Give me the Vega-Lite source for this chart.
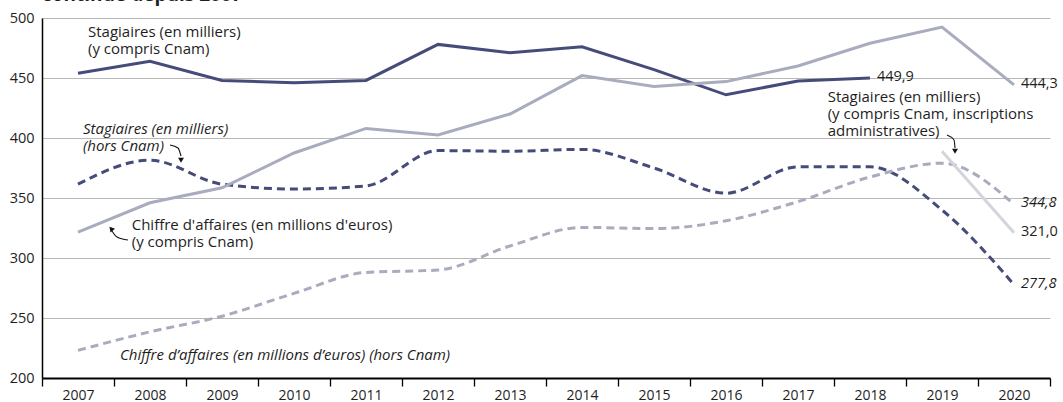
{
  "$schema": "https://vega.github.io/schema/vega-lite/v6.json",
  "autosize": {"type": "none"},
  "padding": {"left": 42, "top": 18, "right": 13, "bottom": 24},
  "width": 1008,
  "height": 360,
  "title": {"text": "continue depuis 2007", "anchor": "start", "frame": "group", "fontSize": 19, "fontWeight": "bold", "font": "Open Sans", "color": "#1e1e1e", "baseline": "alphabetic", "offset": -10},
  "datasets": {
    "series": [
      {"series": "A", "year": 2007, "value": 454},
      {"series": "A", "year": 2008, "value": 464},
      {"series": "A", "year": 2009, "value": 448},
      {"series": "A", "year": 2010, "value": 446},
      {"series": "A", "year": 2011, "value": 448},
      {"series": "A", "year": 2012, "value": 478},
      {"series": "A", "year": 2013, "value": 471},
      {"series": "A", "year": 2014, "value": 476},
      {"series": "A", "year": 2015, "value": 457},
      {"series": "A", "year": 2016, "value": 436},
      {"series": "A", "year": 2017, "value": 447.5},
      {"series": "A", "year": 2018, "value": 449.9},
      {"series": "B", "year": 2007, "value": 321.5},
      {"series": "B", "year": 2008, "value": 346},
      {"series": "B", "year": 2009, "value": 358.5},
      {"series": "B", "year": 2010, "value": 387.5},
      {"series": "B", "year": 2011, "value": 408},
      {"series": "B", "year": 2012, "value": 402.5},
      {"series": "B", "year": 2013, "value": 420},
      {"series": "B", "year": 2014, "value": 452},
      {"series": "B", "year": 2015, "value": 443},
      {"series": "B", "year": 2016, "value": 447},
      {"series": "B", "year": 2017, "value": 460},
      {"series": "B", "year": 2018, "value": 479},
      {"series": "B", "year": 2019, "value": 492.5},
      {"series": "B", "year": 2020, "value": 444.3},
      {"series": "C", "year": 2007, "value": 361.5},
      {"series": "C", "year": 2008, "value": 381.5},
      {"series": "C", "year": 2009, "value": 361.5},
      {"series": "C", "year": 2010, "value": 357.5},
      {"series": "C", "year": 2011, "value": 360},
      {"series": "C", "year": 2012, "value": 389.5},
      {"series": "C", "year": 2013, "value": 389},
      {"series": "C", "year": 2014, "value": 390.5},
      {"series": "C", "year": 2015, "value": 375},
      {"series": "C", "year": 2016, "value": 354},
      {"series": "C", "year": 2017, "value": 376},
      {"series": "C", "year": 2018, "value": 376},
      {"series": "C", "year": 2019, "value": 340},
      {"series": "C", "year": 2020, "value": 277.8},
      {"series": "D", "year": 2007, "value": 223},
      {"series": "D", "year": 2008, "value": 238.5},
      {"series": "D", "year": 2009, "value": 251.5},
      {"series": "D", "year": 2010, "value": 270.5},
      {"series": "D", "year": 2011, "value": 288},
      {"series": "D", "year": 2012, "value": 290},
      {"series": "D", "year": 2013, "value": 310},
      {"series": "D", "year": 2014, "value": 325.5},
      {"series": "D", "year": 2015, "value": 324.5},
      {"series": "D", "year": 2016, "value": 331},
      {"series": "D", "year": 2017, "value": 347},
      {"series": "D", "year": 2018, "value": 367.5},
      {"series": "D", "year": 2019, "value": 379},
      {"series": "D", "year": 2020, "value": 344.8},
      {"series": "E", "year": 2019, "value": 389},
      {"series": "E", "year": 2020, "value": 321.0}
    ],
    "arrows": [
      {"arrow": "a1", "x": 2008.278, "y": 394.2},
      {"arrow": "a1", "x": 2008.389, "y": 391.7},
      {"arrow": "a1", "x": 2008.431, "y": 385},
      {"arrow": "a2", "x": 2007.472, "y": 322.5},
      {"arrow": "a2", "x": 2007.542, "y": 317.5},
      {"arrow": "a2", "x": 2007.694, "y": 315},
      {"arrow": "a3", "x": 2019.069, "y": 402.5},
      {"arrow": "a3", "x": 2019.167, "y": 398.3},
      {"arrow": "a3", "x": 2019.181, "y": 391.7}
    ],
    "heads": [
      {"arrow": "a1", "x": 2008.431, "y": 381.5},
      {"arrow": "a2", "x": 2007.46, "y": 324.5},
      {"arrow": "a3", "x": 2019.181, "y": 389}
    ],
    "notes_upright": [
      {"label": "Stagiaires (en milliers)\n(y compris Cnam)", "x": 2007.139, "y": 488.3},
      {"label": "Chiffre d'affaires (en millions d'euros)\n(y compris Cnam)", "x": 2007.746, "y": 327.5},
      {"label": "Stagiaires (en milliers)\n(y compris Cnam, inscriptions\nadministratives)", "x": 2017.4125, "y": 434.4}
    ],
    "notes_italic": [
      {"label": "Stagiaires (en milliers)\n(hors Cnam)", "x": 2007.069, "y": 407.5},
      {"label": "Chiffre d’affaires (en millions d’euros) (hors Cnam)", "x": 2007.583, "y": 219.2}
    ]
  },
  "layer": [
    {
      "layer": [
        {
          "data": {"name": "series"},
          "transform": [{"filter": "datum.series === 'C' || datum.series === 'D'"}],
          "mark": {"type": "line", "interpolate": "monotone", "strokeWidth": 3, "strokeDash": [8, 5]},
          "encoding": {
            "x": {"field": "year", "type": "quantitative", "scale": {"domain": [2006.5, 2020.5], "nice": false, "zero": false},
              "axis": {"orient": "bottom", "values": [2007, 2008, 2009, 2010, 2011, 2012, 2013, 2014, 2015, 2016, 2017, 2018, 2019, 2020], "format": "d", "ticks": false, "domain": false, "grid": false, "labelFontSize": 14, "labelColor": "#1e1e1e", "labelPadding": 10, "labelFlush": false, "labelFont": "Open Sans", "title": null}},
            "y": {"field": "value", "type": "quantitative", "scale": {"domain": [200, 500], "nice": false, "zero": false},
              "axis": {"values": [200, 250, 300, 350, 400, 450, 500], "grid": true, "gridColor": "#b8b8b8", "gridWidth": 1, "ticks": false, "domain": true, "domainColor": "#000000", "domainWidth": 1.5, "labelFontSize": 14.5, "labelPadding": 8, "labelColor": "#1e1e1e", "labelFont": "Open Sans", "title": null}},
            "color": {"field": "series", "type": "nominal", "scale": {"domain": ["A", "B", "C", "D", "E"], "range": ["#454c7a", "#a9acbe", "#454c7a", "#a9acbe", "#d3d5dd"]}, "legend": null},
            "detail": {"field": "series"}
          }
        },
        {
          "data": {"name": "series"},
          "transform": [{"filter": "datum.series === 'A' || datum.series === 'B' || datum.series === 'E'"}],
          "mark": {"type": "line", "strokeWidth": 3},
          "encoding": {
            "x": {"field": "year", "type": "quantitative"},
            "y": {"field": "value", "type": "quantitative"},
            "color": {"field": "series", "type": "nominal", "legend": null}
          }
        },
        {
          "data": {"name": "arrows"},
          "mark": {"type": "line", "interpolate": "monotone", "strokeWidth": 1.1, "color": "#111111"},
          "encoding": {
            "x": {"field": "x", "type": "quantitative"},
            "y": {"field": "y", "type": "quantitative"},
            "detail": {"field": "arrow"}
          }
        },
        {
          "data": {"name": "heads"},
          "transform": [{"filter": "datum.arrow !== 'a2'"}],
          "mark": {"type": "point", "shape": "triangle-down", "filled": true, "size": 35, "color": "#111111", "opacity": 1},
          "encoding": {
            "x": {"field": "x", "type": "quantitative"},
            "y": {"field": "y", "type": "quantitative"}
          }
        },
        {
          "data": {"name": "heads"},
          "transform": [{"filter": "datum.arrow === 'a2'"}],
          "mark": {"type": "point", "shape": "triangle-up", "angle": 320, "filled": true, "size": 35, "color": "#111111", "opacity": 1},
          "encoding": {
            "x": {"field": "x", "type": "quantitative"},
            "y": {"field": "y", "type": "quantitative"}
          }
        },
        {
          "data": {"name": "notes_upright"},
          "mark": {"type": "text", "align": "left", "baseline": "middle", "lineBreak": "\n", "lineHeight": 17, "fontSize": 15, "font": "Open Sans", "color": "#1e1e1e"},
          "encoding": {
            "x": {"field": "x", "type": "quantitative"},
            "y": {"field": "y", "type": "quantitative"},
            "text": {"field": "label"}
          }
        },
        {
          "data": {"name": "notes_italic"},
          "mark": {"type": "text", "align": "left", "baseline": "middle", "lineBreak": "\n", "lineHeight": 17, "fontSize": 15, "font": "Open Sans", "fontStyle": "italic", "color": "#1e1e1e"},
          "encoding": {
            "x": {"field": "x", "type": "quantitative"},
            "y": {"field": "y", "type": "quantitative"},
            "text": {"field": "label"}
          }
        },
        {
          "data": {"name": "series"},
          "transform": [
            {"joinaggregate": [{"op": "max", "field": "year", "as": "last"}], "groupby": ["series"]},
            {"filter": "datum.year === datum.last && (datum.series === 'A' || datum.series === 'B' || datum.series === 'E')"}
          ],
          "mark": {"type": "text", "align": "left", "baseline": "middle", "dx": 7, "dy": -1, "fontSize": 14.5, "font": "Open Sans", "color": "#1e1e1e"},
          "encoding": {
            "x": {"field": "year", "type": "quantitative"},
            "y": {"field": "value", "type": "quantitative"},
            "text": {"field": "value", "type": "quantitative", "format": ".1f"}
          }
        },
        {
          "data": {"name": "series"},
          "transform": [
            {"joinaggregate": [{"op": "max", "field": "year", "as": "last"}], "groupby": ["series"]},
            {"filter": "datum.year === datum.last && (datum.series === 'C' || datum.series === 'D')"}
          ],
          "mark": {"type": "text", "align": "left", "baseline": "middle", "dx": 7, "dy": -1, "fontSize": 14.5, "font": "Open Sans", "fontStyle": "italic", "color": "#1e1e1e"},
          "encoding": {
            "x": {"field": "year", "type": "quantitative"},
            "y": {"field": "value", "type": "quantitative"},
            "text": {"field": "value", "type": "quantitative", "format": ".1f"}
          }
        }
      ]
    },
    {
      "data": {"name": "series"},
      "mark": {"type": "rule", "opacity": 0},
      "encoding": {
        "x": {"field": "year", "type": "quantitative",
          "axis": {"orient": "bottom", "values": [2006.5, 2007.5, 2008.5, 2009.5, 2010.5, 2011.5, 2012.5, 2013.5, 2014.5, 2015.5, 2016.5, 2017.5, 2018.5, 2019.5, 2020.5], "labels": false, "ticks": true, "tickSize": 8, "tickColor": "#000000", "tickWidth": 1.3, "domain": true, "domainColor": "#000000", "domainWidth": 1.8, "grid": false, "title": null}}
      }
    }
  ],
  "resolve": {"axis": {"x": "independent"}},
  "config": {
    "view": {"stroke": null},
    "font": "Open Sans",
    "locale": {"number": {"decimal": ",", "thousands": "\u00a0", "grouping": [3], "currency": ["", " €"]}}
  }
}
